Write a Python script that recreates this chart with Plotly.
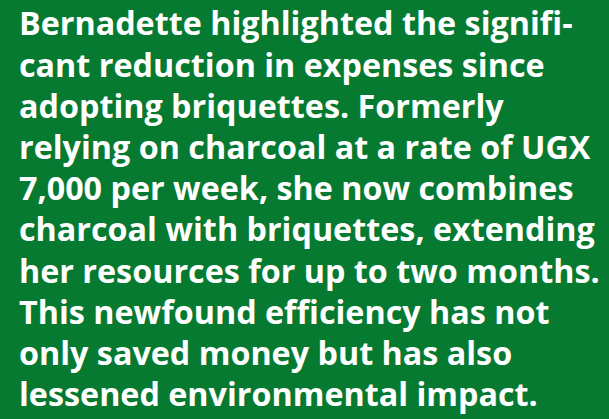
import plotly.graph_objects as go

lines = [
    "Bernadette highlighted the signifi-",
    "cant reduction in expenses since",
    "adopting briquettes. Formerly",
    "relying on charcoal at a rate of UGX",
    "7,000 per week, she now combines",
    "charcoal with briquettes, extending",
    "her resources for up to two months.",
    "This newfound efficiency has not",
    "only saved money but has also",
    "lessened environmental impact.",
]

W, H = 609, 419
first_baseline = 35
pitch = 41.2
fs = 32.3

fig = go.Figure()
for i, t in enumerate(lines):
    fig.add_annotation(
        x=17, y=first_baseline + i * pitch - 0.388 * fs, xref="x", yref="y",
        text=t, showarrow=False, xanchor="left", yanchor="middle",
        font=dict(family="Open Sans", size=fs, color="white", weight=700),
    )

fig.update_layout(
    width=W, height=H, margin=dict(l=0, r=0, t=0, b=0),
    paper_bgcolor="#077A31", plot_bgcolor="#077A31",
    xaxis=dict(range=[0, W], visible=False, fixedrange=True),
    yaxis=dict(range=[H, 0], visible=False, fixedrange=True),
    showlegend=False,
)
fig.write_html("out.html", config={"displayModeBar": False})
with open("out.html", encoding="utf-8") as f:
    html = f.read()
html = html.replace("<body>", '<body style="margin:0;background:#077A31;">', 1)
with open("out.html", "w", encoding="utf-8") as f:
    f.write(html)
